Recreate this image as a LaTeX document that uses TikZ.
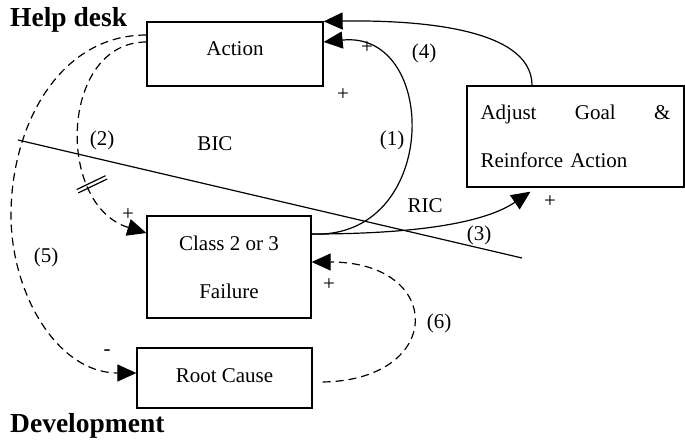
\documentclass[tikz,border=0pt]{standalone}
\usepackage{fontspec}
\setmainfont{Liberation Serif}
\usetikzlibrary{arrows.meta}

\begin{document}
\begin{tikzpicture}[x=1pt, y=-1pt, >={Triangle[length=19pt,width=17pt]},
    every node/.style={font=\fontsize{21}{25}\selectfont},
    box/.style={draw, line width=1.3pt, inner sep=0pt},
    link/.style={line width=1.2pt},
    dlink/.style={line width=1.2pt, dash pattern=on 8pt off 5pt},
    lbl/.style={inner sep=0pt},
    head/.style={inner sep=0pt, font=\fontsize{27.5}{30}\selectfont\bfseries}]
    \useasboundingbox (0,0) rectangle (685,440);

    % Area headings
    \node[head, anchor=base west] (help) at (10,26) {Help desk};
    \node[head, anchor=base west] (dev) at (10,432) {Development};

    % Boxes
    \node[box, minimum width=176pt, minimum height=64pt, text height=14pt, text depth=12pt] (act) at (235,54) {Action};
    \node[box, minimum width=217pt, minimum height=101pt, text width=190pt, align=left] (adj) at (575.5,136.5)
        {Adjust\hfill Goal\hfill\&\\[23pt]Reinforce Action};
    \node[box, minimum width=164pt, minimum height=102pt, align=center] (cls) at (229,267)
        {Class 2 or 3\\[23pt]Failure};
    \node[box, minimum width=175pt, minimum height=60pt, text height=14pt, text depth=6pt] (root) at (224.5,378) {Root Cause};

    % Dividing line between the two loops
    \coordinate (splitL) at (18,140);
    \coordinate (splitR) at (522,258);
    \draw[link] (splitL) -- (splitR);

    % Solid links
    \draw[link, ->] ([yshift=33pt]cls.east) .. controls (440,240) and (440,30) .. ([yshift=12pt]act.east); % (1)
    \draw[link, ->] ([xshift=-43.5pt]adj.north) .. controls (532,26) and (410,20) .. (act.north east); % (4)
    \draw[link, ->] ([yshift=33pt]cls.east) .. controls (400,234) and (480,226) .. ([xshift=-45pt,yshift=-4pt]adj.south); % (3)

    % Dashed links
    \draw[dlink, ->] ([yshift=12pt]act.west) .. controls (60,42) and (55,205) .. ([yshift=34pt]cls.west)
        node[sloped, pos=0.72, inner sep=0pt] (delay) {\rule{1.2pt}{32pt}\hspace{2.5pt}\rule{1.2pt}{32pt}}; % (2)
    \coordinate (far) at (11,215);
    \draw[dlink, ->] ([yshift=19pt]act.west) to[out=180, in=90] (far) to[out=-90, in=180] ([yshift=5pt]root.west); % (5)
    \draw[dlink, ->] ([xshift=10pt,yshift=-4pt]root.east) .. controls (445,380) and (445,262) .. ([yshift=5pt]cls.east); % (6)

    % Loop names
    \node[lbl, anchor=base] (bic) at (215,150) {BIC};
    \node[lbl, anchor=base] (ric) at (425,212) {RIC};

    % Link numbers
    \node[lbl] (n1) at (392,140) {(1)};
    \node[lbl] (n2) at (102,140) {(2)};
    \node[lbl] (n3) at (479,235) {(3)};
    \node[lbl] (n4) at (424,53) {(4)};
    \node[lbl] (n5) at (46,257) {(5)};
    \node[lbl] (n6) at (439,323) {(6)};

    % Polarities
    \node[lbl] (p1) at (367,48) {+};
    \node[lbl] (p2) at (343,95) {+};
    \node[lbl] (p3) at (550,202) {+};
    \node[lbl] (p4) at (128,215) {+};
    \node[lbl] (p5) at (329,285) {+};
    \node[lbl] (m1) at (107,353) {-};
\end{tikzpicture}
\end{document}
